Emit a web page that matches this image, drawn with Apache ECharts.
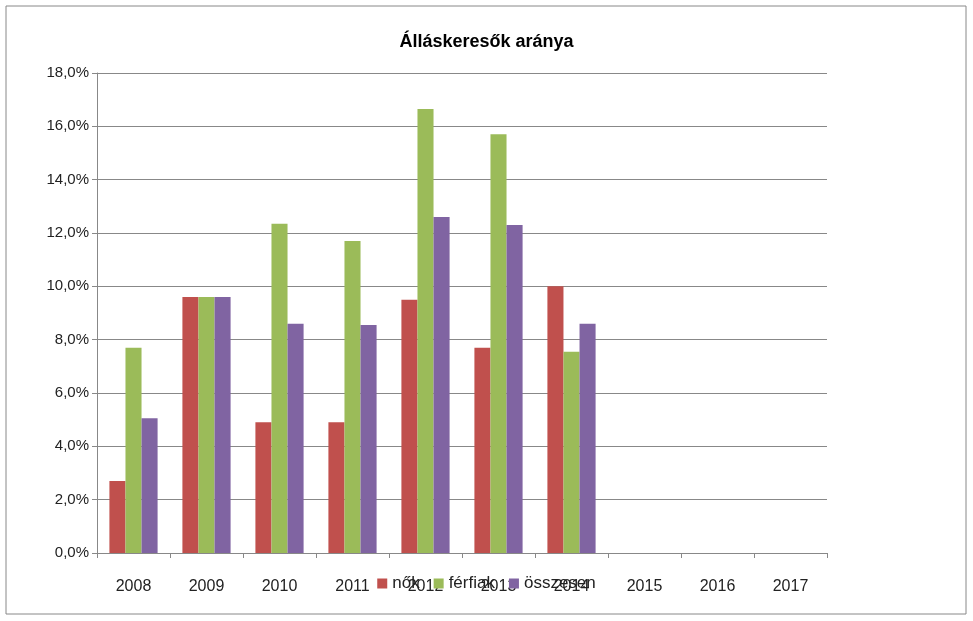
<!DOCTYPE html><html><head><meta charset="utf-8"><script src="https://cdn.jsdelivr.net/npm/echarts@6/dist/echarts.min.js"></script></head><body style="margin:0;background:#fff"><div id="c" style="width:973px;height:621px"></div><script>
const categories=['2008','2009','2010','2011','2012','2013','2014','2015','2016','2017'];
const nok=[2.7,9.6,4.9,4.9,9.5,7.7,10.0,null,null,null];
const ferfiak=[7.7,9.6,12.35,11.7,16.65,15.7,7.55,null,null,null];
const osszesen=[5.05,9.6,8.6,8.55,12.6,12.3,8.6,null,null,null];
const yTicks=[0,2,4,6,8,10,12,14,16,18];
const ch=echarts.init(document.getElementById('c'));
const f='Liberation Sans';
const mk=(n,d,c)=>({name:n,type:'bar',data:d,itemStyle:{color:c},barGap:'0%',barCategoryGap:'34%'});
ch.setOption({animation:false,
graphic:[{type:'rect',shape:{x:6,y:6,width:960,height:608},style:{fill:'none',stroke:'#888',lineWidth:1}}],
title:{text:'Álláskeresők aránya',left:'center',top:28,textStyle:{fontFamily:f,fontSize:18,fontWeight:'bold',color:'#000'}},
legend:{bottom:24,left:'center',itemWidth:10,itemHeight:10,itemGap:14,icon:'rect',textStyle:{fontFamily:f,fontSize:17,color:'#222'},data:['nők','férfiak','összesen']},
grid:{left:97,right:146,top:73,bottom:68},
xAxis:{type:'category',data:categories,axisLine:{lineStyle:{color:'#888'}},axisTick:{show:true,lineStyle:{color:'#888'}},axisLabel:{fontFamily:f,fontSize:16,color:'#222',margin:26}},
yAxis:{type:'value',min:0,max:18,interval:2,axisLine:{show:true,lineStyle:{color:'#888'}},axisTick:{show:true,lineStyle:{color:'#888'}},splitLine:{lineStyle:{color:'#888'}},axisLabel:{fontFamily:f,fontSize:15,color:'#222',formatter:v=>v.toFixed(1).replace('.',',')+'%'}},
series:[mk('nők',nok,'#C0504D'),mk('férfiak',ferfiak,'#9BBB59'),mk('összesen',osszesen,'#8064A2')]});
</script></body></html>
